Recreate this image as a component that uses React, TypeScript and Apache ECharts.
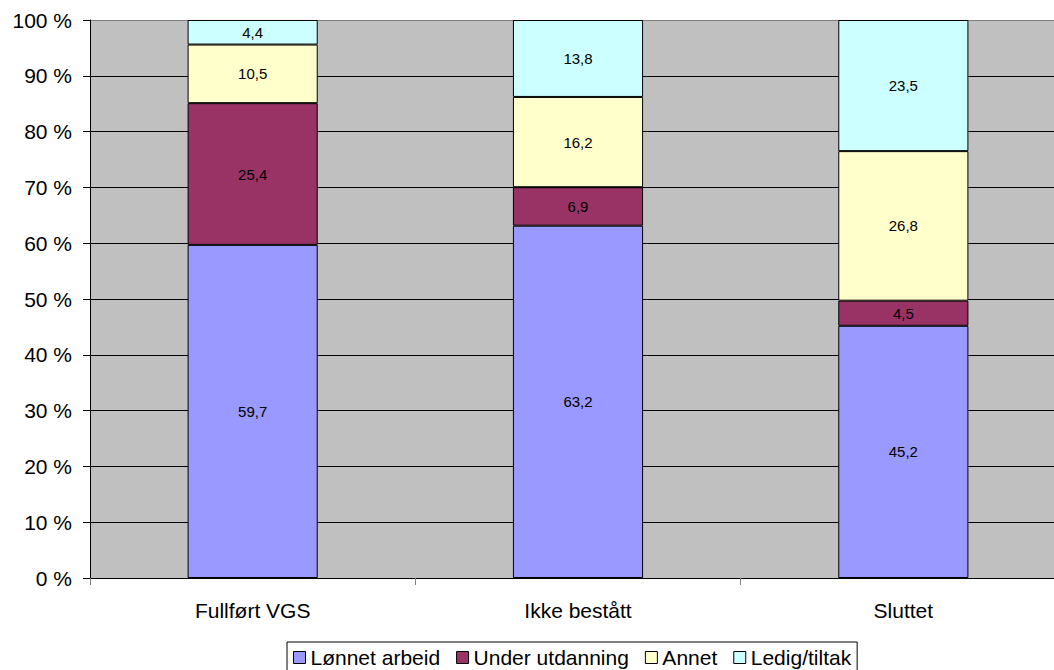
import React, { useEffect, useRef } from "react";
import * as echarts from "echarts";

const categories = ["Fullført VGS", "Ikke bestått", "Sluttet"];
const seriesNames = ["Lønnet arbeid", "Under utdanning", "Annet", "Ledig/tiltak"];
const lonnetArbeid = [59.7, 63.2, 45.2];
const underUtdanning = [25.4, 6.9, 4.5];
const annet = [10.5, 16.2, 26.8];
const ledigTiltak = [4.4, 13.8, 23.5];
const colors = ["#9999FF", "#993366", "#FFFFCC", "#CCFFFF"];

const FONT = "Liberation Sans, Arial, sans-serif";

export default function App() {
  const ref = useRef<HTMLDivElement>(null);
  useEffect(() => {
    if (!ref.current) return;
    const chart = echarts.init(ref.current, null, { renderer: "svg" });
    const raw = [lonnetArbeid, underUtdanning, annet, ledigTiltak];
    const totals = categories.map((_, i) => raw.reduce((s, arr) => s + arr[i], 0));
    const series = raw.map((arr, si) => ({
      name: seriesNames[si],
      type: "bar",
      stack: "total",
      barWidth: "40%",
      data: arr.map((v, i) => ({ value: (v / totals[i]) * 100, raw: v })),
      itemStyle: { color: colors[si], borderColor: "#000", borderWidth: 1 },
      label: {
        show: true,
        position: "inside",
        color: "#000",
        fontSize: 15,
        fontFamily: FONT,
        formatter: (p: any) => String(p.data.raw.toFixed(1)).replace(".", ","),
      },
    }));
    const gridColors = ["#000", "#000", "#000", "#000", "#000", "#000", "#000", "#000", "#000", "#000", "#808080"];
    chart.setOption({
      animation: false,
      textStyle: { fontFamily: FONT },
      grid: {
        left: 90,
        top: 20,
        right: -12,
        bottom: 92,
        outerBoundsMode: "none",
        containLabel: false,
        show: true,
        backgroundColor: "#C0C0C0",
        borderWidth: 0,
      },
      legend: {
        left: 287,
        top: 642,
        data: seriesNames,
        icon: "rect",
        itemWidth: 12,
        itemHeight: 12,
        itemGap: 16,
        borderColor: "#000",
        borderWidth: 1,
        padding: [5, 6, 12, 6],
        textStyle: { fontSize: 21, color: "#000", fontFamily: FONT },
        itemStyle: { borderColor: "#000", borderWidth: 1 },
      },
      xAxis: {
        type: "category",
        data: categories,
        axisLine: { lineStyle: { color: "#000", width: 1 } },
        axisTick: { show: true, length: 7, lineStyle: { color: "#808080" } },
        axisLabel: { fontSize: 21, color: "#000", margin: 22, fontFamily: FONT },
      },
      yAxis: {
        type: "value",
        min: 0,
        max: 100,
        interval: 10,
        axisLine: { show: true, lineStyle: { color: "#000", width: 1 } },
        axisTick: { show: true, length: 7, lineStyle: { color: "#000" } },
        axisLabel: {
          fontSize: 21,
          color: "#000",
          margin: 18,
          fontFamily: FONT,
          formatter: "{value} %",
        },
        splitLine: { show: true, lineStyle: { color: gridColors, width: 1 } },
      },
      series,
    });
    return () => chart.dispose();
  }, []);
  return (
    <div
      ref={ref}
      style={{ position: "fixed", left: 0, top: 0, width: 1054, height: 670, background: "#fff" }}
    />
  );
}
